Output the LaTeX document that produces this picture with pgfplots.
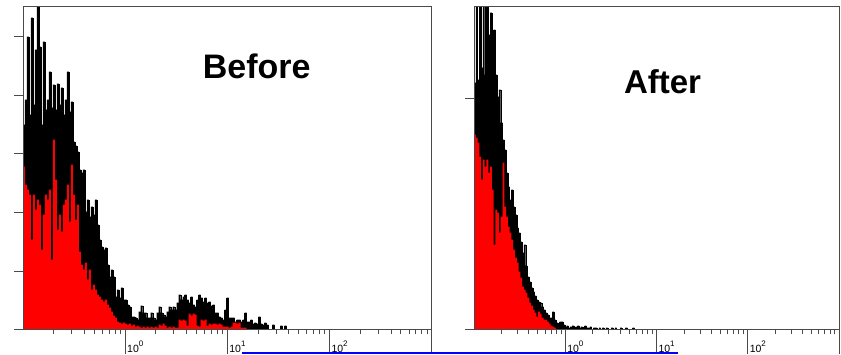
\documentclass[border=0pt]{standalone}
\usepackage{pgfplots}
\pgfplotsset{compat=1.18}
\usepackage{fontspec}
\setmainfont{Liberation Sans}
\definecolor{axgray}{HTML}{4A4A4A}
\newcommand{\dec}[1]{10\raisebox{5.2pt}{\fontsize{8}{8}\selectfont #1}}
\pgfplotsset{
  flowaxis/.style={
    scale only axis, anchor=south west,
    height=323pt, xmin=0, xmax=1024, ymin=0, ymax=323,
    axis on top, clip=true,
    axis line style={draw=axgray, line width=0.9pt},
    every tick/.style={draw=axgray, line width=0.9pt},
    tick align=outside, xtick pos=bottom, ytick pos=left,
    xtick={256,512,768,1024},
    xticklabels={\dec{0},\dec{1},\dec{2},{}},
    minor xtick={77.06,122.14,154.13,178.94,199.21,216.35,231.19,244.29,
                 333.06,378.14,410.13,434.94,455.21,472.35,487.19,500.29,
                 589.06,634.14,666.13,690.94,711.21,728.35,743.19,756.29,
                 845.06,890.14,922.13,946.94,967.21,984.35,999.19,1012.29},
    major tick length=24.3pt, minor tick length=4.7pt,
    xticklabel style={anchor=base west, inner sep=0pt, xshift=1.8pt, yshift=2pt,
                      font=\fontsize{10.5}{10.5}\selectfont},
    ytick=\empty,
    extra y tick labels={},
    extra y tick style={major tick length=9pt, tick align=outside},
  }
}
\begin{document}
\begin{tikzpicture}
\useasboundingbox (0,0) rectangle (841pt,354pt);
% ---------------- Before ----------------
\begin{axis}[flowaxis, at={(23pt,24.3pt)}, width=408.7pt,
  extra y ticks={0,58.6,117.2,175.8,234.4,293}]
\addplot[const plot, fill=black, draw=black, line width=0.3pt] coordinates {
(0,205)(5,230)(10,293)(15,215)(20,312)(25,225)(30,280)(35,330)(40,283)(45,205)
(50,288)(55,220)(60,230)(65,258)(70,222)(75,245)(80,220)(85,246)(90,225)(95,242)
(100,215)(105,230)(110,258)(115,218)(120,228)(125,188)(130,184)(135,178)(140,160)(145,157)
(150,160)(155,118)(160,130)(165,113)(170,123)(175,115)(180,130)(185,105)(190,90)(195,83)
(200,80)(205,82)(210,65)(215,53)(220,60)(225,53)(230,33)(235,40)(240,32)(245,42)
(250,30)(255,30)(260,25)(265,23)(270,13)(275,13)(280,12)(285,10)(290,18)(295,24)
(300,17)(305,17)(310,12)(315,12)(320,17)(325,12)(330,10)(335,17)(340,23)(345,17)
(350,15)(355,13)(360,18)(365,23)(370,20)(375,23)(380,20)(385,27)(390,35)(395,30)
(400,33)(405,35)(410,30)(415,27)(420,33)(425,25)(430,23)(435,30)(440,35)(445,32)
(450,28)(455,32)(460,27)(465,28)(470,24)(475,25)(480,17)(485,17)(490,13)(495,12)
(500,10)(505,20)(510,32)(515,12)(520,12)(525,12)(530,8)(535,10)(540,10)(545,8)
(550,10)(555,17)(560,8)(565,8)(570,10)(575,6)(580,7)(585,6)(590,13)(595,6)
(600,5)(605,7)(610,5)(615,0)(620,0)(625,5)(630,0)(635,0)(640,0)(645,4)
(650,0)(655,4)(660,0)(665,0)
} \closedcycle;
\addplot[const plot, fill=red, draw=none] coordinates {
(0,163)(5,145)(10,140)(15,135)(20,90)(25,135)(30,120)(35,130)(40,125)(45,80)
(50,115)(55,135)(60,130)(65,140)(70,70)(75,190)(80,150)(85,100)(90,115)(95,98)
(100,125)(105,130)(110,145)(115,108)(120,165)(125,135)(130,110)(135,125)(140,78)(145,65)
(150,60)(155,67)(160,50)(165,60)(170,40)(175,45)(180,40)(185,35)(190,33)(195,30)
(200,28)(205,30)(210,25)(215,22)(220,18)(225,14)(230,12)(235,8)(240,7)(245,6)
(250,7)(255,6)(260,5)(265,6)(270,4)(275,5)(280,3)(285,4)(290,3)(295,2)
(300,3)(305,2)(310,3)(315,2)(320,3)(325,2)(330,3)(335,2)(340,5)(345,4)
(350,6)(355,4)(360,2)(365,3)(370,2)(375,3)(380,2)(385,2)(390,10)(395,9)
(400,10)(405,9)(410,4)(415,16)(420,14)(425,16)(430,15)(435,4)(440,3)(445,10)
(450,9)(455,10)(460,4)(465,6)(470,5)(475,6)(480,6)(485,5)(490,6)(495,5)
(500,3)(505,3)(510,3)(515,2)(520,3)(525,7)(530,7)(535,6)(540,7)(545,2)
(550,2)(555,2)(560,0)(565,0)
} \closedcycle;
\end{axis}
% ---------------- After ----------------
\begin{axis}[flowaxis, at={(474pt,24.3pt)}, width=365pt,
  extra y ticks={0,231}]
\addplot[const plot, fill=black, draw=black, line width=0.3pt] coordinates {
(0,247)(5,330)(10,250)(15,330)(20,262)(25,330)(30,255)(35,330)(40,295)(45,317)
(50,260)(55,300)(60,255)(65,233)(70,240)(75,207)(80,190)(85,180)(90,157)(95,143)
(100,130)(105,140)(110,123)(115,115)(120,102)(125,97)(130,88)(135,77)(140,85)(145,64)
(150,53)(155,48)(160,42)(165,38)(170,34)(175,30)(180,28)(185,27)(190,23)(195,20)
(200,17)(205,15)(210,12)(215,12)(220,18)(225,10)(230,7)(235,6)(240,8)(245,8)
(250,5)(255,3)(260,4)(265,2)(270,3)(275,4)(280,2)(285,3)(290,4)(295,2)
(300,3)(305,2)(310,4)(315,2)(320,2)(325,3)(330,0)(335,2)(340,2)(345,0)
(350,2)(355,0)(360,2)(365,0)(370,2)(375,0)(380,0)(385,2)(390,0)(395,2)
(400,0)(405,0)(410,2)(415,0)(420,0)(425,2)(430,0)(435,0)(440,0)(445,2)
(450,0)(455,0)(460,0)(465,0)
} \closedcycle;
\addplot[const plot, fill=red, draw=none] coordinates {
(0,195)(5,192)(10,187)(15,173)(20,150)(25,170)(30,163)(35,170)(40,157)(45,163)
(50,140)(55,85)(60,120)(65,117)(70,97)(75,113)(80,167)(85,123)(90,113)(95,103)
(100,97)(105,90)(110,80)(115,72)(120,67)(125,58)(130,52)(135,43)(140,40)(145,37)
(150,32)(155,27)(160,24)(165,20)(170,17)(175,13)(180,18)(185,16)(190,12)(195,10)
(200,10)(205,8)(210,6)(215,4)(220,3)(225,2)(230,0)(235,0)
} \closedcycle;
\end{axis}
\node[anchor=base, font=\fontsize{34}{34}\selectfont\bfseries] at (256.7pt,275.7pt) {Before};
\node[anchor=base, font=\fontsize{33}{33}\selectfont\bfseries] at (662.5pt,260.7pt) {After};
\draw[blue, line width=2pt] (241.7pt,1pt) -- (678.3pt,1pt);
\end{tikzpicture}
\end{document}
